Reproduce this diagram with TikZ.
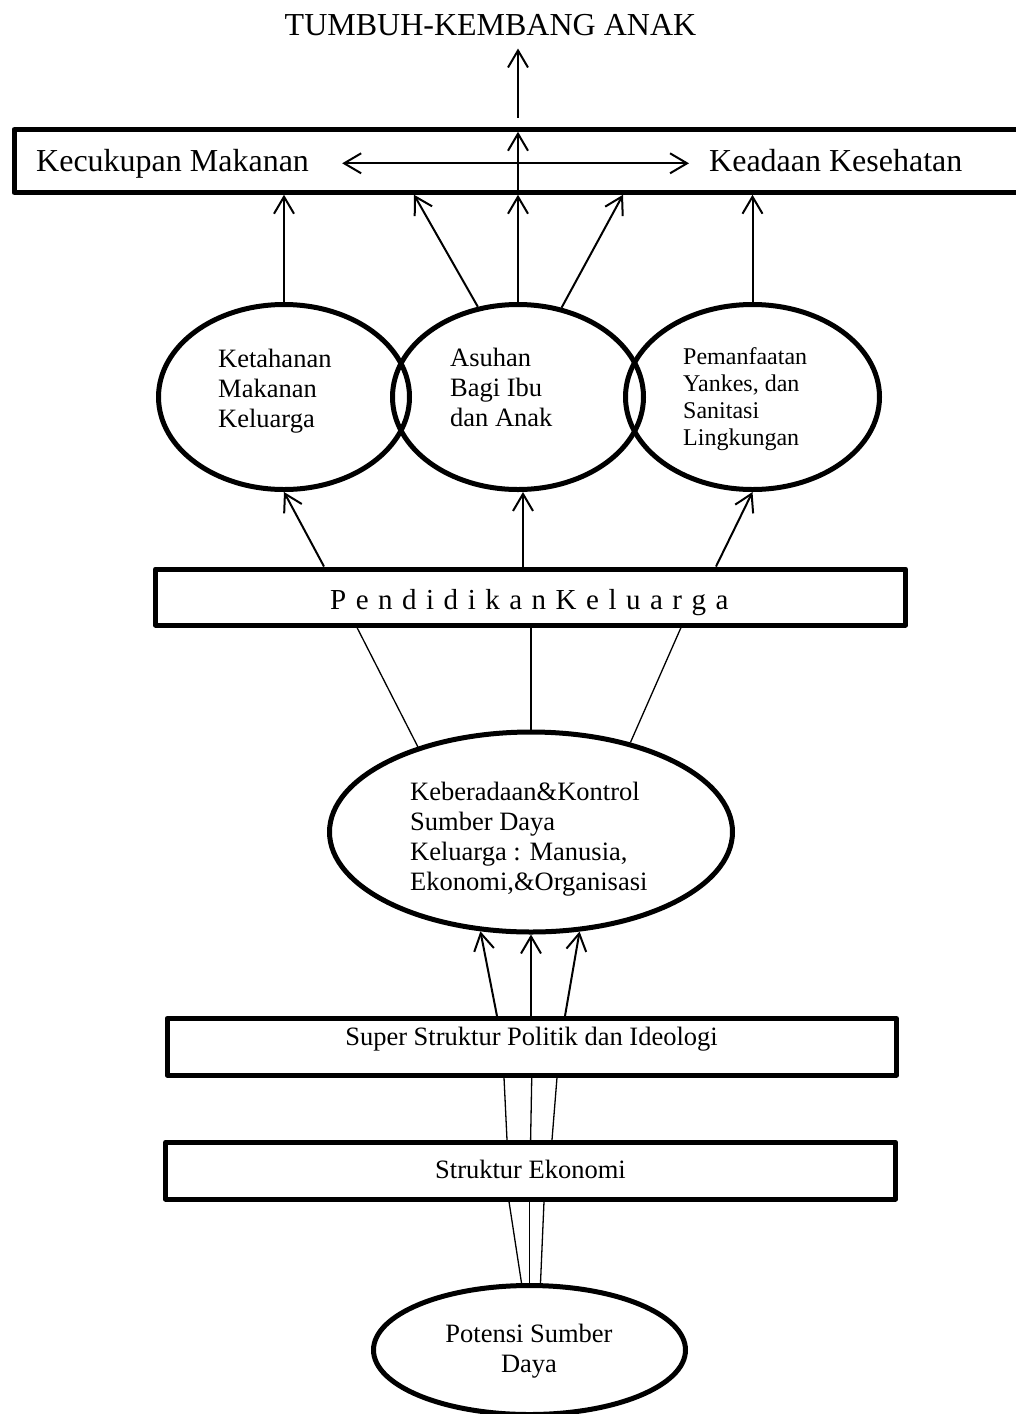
\documentclass[tikz,border=0pt]{standalone}
\usepackage{fontspec}
\setmainfont{Liberation Serif}
\usetikzlibrary{arrows.meta,shapes.geometric}
\newcommand\lgap{\kern9.5pt}
\begin{document}
\begin{tikzpicture}[x=1pt,y=-1pt,
  box/.style={draw, line width=5pt, line join=round, rectangle, inner sep=0pt},
  ell/.style={draw, line width=5pt, ellipse, inner sep=0pt},
  txt/.style={inner sep=0pt, font=\fontsize{26.5}{30}\selectfont},
  big/.style={inner sep=0pt, font=\fontsize{32}{36}\selectfont},
  sml/.style={inner sep=0pt, font=\fontsize{24}{27}\selectfont},
  spc/.style={inner sep=0pt, font=\fontsize{29}{32}\selectfont},
  arr/.style={line width=2pt, -{Straight Barb[length=17pt,width=20pt]}},
  darr/.style={line width=2pt, {Straight Barb[length=17pt,width=20pt]}-{Straight Barb[length=17pt,width=20pt]}},
  ln/.style={line width=1.3pt}]
\useasboundingbox (0,0) rectangle (1015,1414);

% boxes
\node[box, minimum width=1008pt, minimum height=62.5pt] (top) at (518,161) {};
\node[box, minimum width=750pt, minimum height=56pt] (pend) at (530.5,597) {};
\node[box, minimum width=729.5pt, minimum height=56.5pt] (sup) at (531.75,1046.75) {};
\node[box, minimum width=730pt, minimum height=56.7pt] (str) at (530.6,1170.7) {};

% ellipses
\node[ell, minimum width=251pt, minimum height=185pt] (e1) at (284,397) {};
\node[ell, minimum width=251pt, minimum height=185pt] (e2) at (518,397) {};
\node[ell, minimum width=254pt, minimum height=185pt] (e3) at (752.5,397) {};
\node[ell, minimum width=403pt, minimum height=200pt] (e4) at (531,832) {};
\node[ell, minimum width=312pt, minimum height=129pt] (e5) at (529.5,1350) {};

% texts (multi-line nodes: base anchor = last line baseline)
\node[big, anchor=base] (title) at (490.5,35) {TUMBUH-KEMBANG ANAK};
\node[big, anchor=base west] (kec) at (36,171) {Kecukupan Makanan};
\node[big, anchor=base west] (kea) at (709,171) {Keadaan Kesehatan};
\node[txt, anchor=base west, align=left] (t1) at (218,427) {Ketahanan\\Makanan\\Keluarga};
\node[txt, anchor=base west, align=left] (t2) at (450,426) {Asuhan\\Bagi Ibu\\dan Anak};
\node[sml, anchor=base west, align=left] (t3) at (683,445) {Pemanfaatan\\Yankes, dan\\Sanitasi\\Lingkungan};
\node[spc, anchor=base west] (tp) at (330,609) {P\lgap e\lgap n\lgap d\lgap i\lgap d\lgap i\lgap k\lgap a\lgap n\lgap K\lgap e\lgap l\lgap u\lgap a\lgap r\lgap g\lgap a};
\node[txt, anchor=base west, align=left] (t4) at (410,890) {Keberadaan\&Kontrol\\Sumber Daya\\Keluarga : Manusia,\\Ekonomi,\&Organisasi};
\node[txt, anchor=base] (ts) at (531.5,1045) {Super Struktur Politik dan Ideologi};
\node[txt, anchor=base] (te) at (530.5,1178) {Struktur Ekonomi};
\node[txt, anchor=base, align=center] (t5) at (529,1372) {Potensi Sumber\\Daya};

% top arrows
\draw[arr, shorten <=9.5pt, shorten >=13pt] (top.north) -- (title.south -| top.north);
\draw[arr, shorten <=3pt, shorten >=4.5pt] (top.south) -- (top.north);
\draw[darr, shorten <=33pt, shorten >=20pt] (kec.east) -- (kec.east -| kea.west);

% ellipses to top box
\draw[arr] (e1.north) -- (e1.north |- top.south);
\draw[arr] (e2.114.5) -- ([xshift=-104pt]top.south);
\draw[arr] (e2.north) -- (top.south);
\draw[arr] (e2.64) -- ([xshift=105pt]top.south);
\draw[arr] (e3.north) -- (e3.north |- top.south);

% pendidikan to ellipses
\draw[arr] ([xshift=-206.5pt]pend.north) -- (e1.south);
\draw[arr] ([xshift=5pt]e2.south |- pend.north) -- ([xshift=5pt]e2.south);
\draw[arr] ([xshift=185.5pt]pend.north) -- (e3.south);

% keberadaan to pendidikan
\draw[ln] (e4.143.5) -- ([xshift=-173.5pt]pend.south);
\draw[ln] (e4.north) -- (e4.north |- pend.south);
\draw[ln] (e4.42) -- ([xshift=150.5pt]pend.south);

% super to keberadaan
\draw[arr] ([xshift=-34.75pt]sup.north) -- (e4.243);
\draw[arr] (e4.south |- sup.north) -- (e4.south);
\draw[arr] ([xshift=33.25pt]sup.north) -- (e4.296);

% struktur to super
\draw[ln] ([xshift=-23.6pt]str.north) -- ([xshift=-27.75pt]sup.south);
\draw[ln] (str.north) -- (sup.south);
\draw[ln] ([xshift=21.4pt]str.north) -- ([xshift=25.25pt]sup.south);

% potensi to struktur
\draw[ln] ([xshift=-8pt]e5.north) -- ([xshift=-21.6pt]str.south);
\draw[ln] (e5.north) -- (e5.north |- str.south);
\draw[ln] ([xshift=11pt]e5.north) -- ([xshift=13.4pt]str.south);
\end{tikzpicture}
\end{document}
